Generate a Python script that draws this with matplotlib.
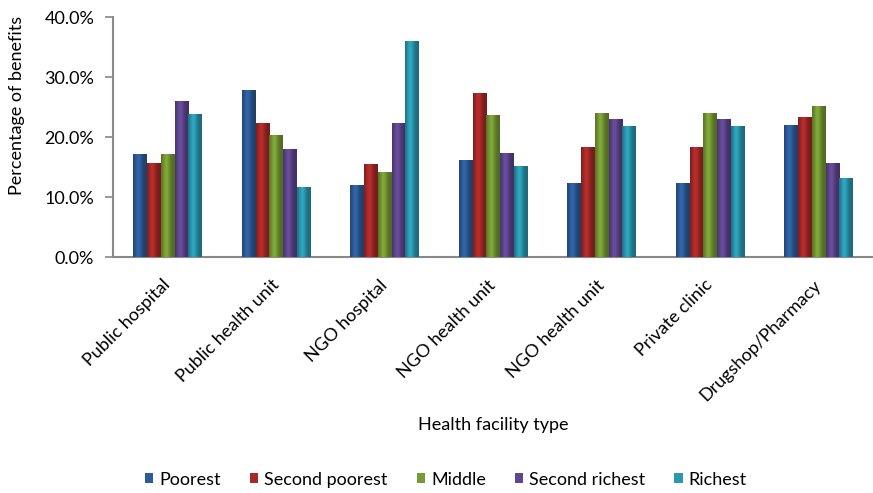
import numpy as np
import matplotlib.pyplot as plt
from matplotlib.colors import to_rgb
from matplotlib.ticker import PercentFormatter
from matplotlib.transforms import ScaledTranslation

plt.rcParams['font.family'] = ['Lato', 'DejaVu Sans']

facilities = ["Public hospital", "Public health unit", "NGO hospital", "NGO health unit",
              "NGO health unit", "Private clinic", "Drugshop/Pharmacy"]
quintiles = ["Poorest", "Second poorest", "Middle", "Second richest", "Richest"]

poorest = [17.3, 27.8, 12.0, 16.2, 12.4, 12.4, 22.1]
second_poorest = [15.8, 22.3, 15.5, 27.3, 18.4, 18.4, 23.3]
middle = [17.3, 20.3, 14.2, 23.7, 24.1, 24.1, 25.2]
second_richest = [26.0, 18.0, 22.3, 17.4, 23.1, 23.1, 15.8]
richest = [23.8, 11.7, 36.0, 15.2, 21.9, 21.9, 13.2]

series = [poorest, second_poorest, middle, second_richest, richest]
colors = ["#2d5c9a", "#a82a28", "#769a34", "#5f4690", "#2a98b0"]


def shade(color):
    # horizontal ramp: dark edges, lighter strip a bit left of centre
    base = np.array(to_rgb(color))
    t = np.linspace(0, 1, 32)
    k = 0.70 + 0.40 * np.exp(-((t - 0.38) / 0.28) ** 2)
    return np.clip(base[None, :] * k[:, None], 0, 1)[None, :, :]


fig, ax = plt.subplots(figsize=(8.73, 4.93), dpi=100)
fig.subplots_adjust(left=0.130, right=1.0, top=0.965, bottom=0.478)

x = np.arange(len(facilities))
w = 0.127
for i, (vals, c) in enumerate(zip(series, colors)):
    bars = ax.bar(x + (i - 2) * w, vals, width=w, color=c, edgecolor='none',
                  label=quintiles[i], zorder=2)
    grad = shade(c)
    for b in bars:
        bx, by = b.get_x(), b.get_y()
        bw, bh = b.get_width(), b.get_height()
        im = ax.imshow(grad, extent=(bx, bx + bw, by, by + bh), aspect='auto',
                       zorder=3, interpolation='bilinear')
        im.set_clip_path(b)

ax.set_xlim(-0.5, len(facilities) - 0.5)
ax.set_ylim(0, 40)
ax.set_aspect('auto')
ax.set_yticks([0, 10, 20, 30, 40])
ax.yaxis.set_major_formatter(PercentFormatter(decimals=1))
ax.tick_params(axis='y', labelsize=13, length=5.8, color="#888888", width=1.2, pad=8)
ax.set_xticks(x)
ax.set_xticklabels(facilities, rotation=45, ha='right', va='top',
                   rotation_mode='anchor', fontsize=13)
ax.tick_params(axis='x', length=0, pad=14)
shift = ScaledTranslation(-4 / 72, 0, fig.dpi_scale_trans)
for lbl in ax.get_xticklabels():
    lbl.set_transform(lbl.get_transform() + shift)

for s in ["top", "right"]:
    ax.spines[s].set_visible(False)
for s in ["left", "bottom"]:
    ax.spines[s].set_color("#888888")
    ax.spines[s].set_linewidth(1.5)

ax.set_ylabel("Percentage of benefits", fontsize=13)
ax.yaxis.set_label_coords(-0.116, 0.633)
ax.set_xlabel("Health facility type", fontsize=13)
ax.xaxis.set_label_coords(0.5, -0.667)

fig.legend(*ax.get_legend_handles_labels(), loc='center', bbox_to_anchor=(0.511, 0.027),
           ncol=5, frameon=False, fontsize=13, handlelength=0.45, handleheight=0.45,
           handletextpad=0.35, columnspacing=1.6, borderpad=0)

fig.savefig("out.png", dpi=100)
